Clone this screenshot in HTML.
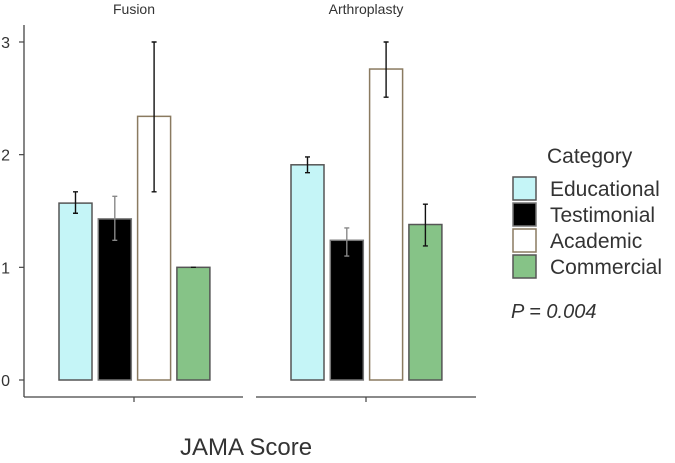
<!DOCTYPE html>
<html><head><meta charset="utf-8"><style>
body{margin:0;background:#fff;}
svg{display:block;font-family:"Liberation Sans",Arial,sans-serif;}
</style></head><body>
<svg id="chart" width="675" height="463">
<g id="axes"></g>
<g id="bars"></g>
<g id="legend"></g>
<text x="180" y="455" font-size="24" fill="#333">JAMA Score</text>
<text x="511" y="318" font-size="20" font-style="italic" fill="#333">P = 0.004</text>
</svg>
<script>
const panels = ["Fusion", "Arthroplasty"];
const categories = ["Educational", "Testimonial", "Academic", "Commercial"];
const fusionValues = [1.57, 1.43, 2.34, 1.0];
const fusionLow = [1.48, 1.24, 1.67, 1.0];
const fusionHigh = [1.67, 1.63, 3.0, 1.0];
const arthroValues = [1.91, 1.24, 2.76, 1.38];
const arthroLow = [1.84, 1.10, 2.51, 1.19];
const arthroHigh = [1.98, 1.35, 3.0, 1.56];
const yTicks = [0, 1, 2, 3];

const NS = "http://www.w3.org/2000/svg";
const colors = ["#c5f5f7", "#000000", "#ffffff", "#86c387"];
const strokes = ["#555", "#777", "#8a7a60", "#555"];
function y(v){ return 380 - v * 112.67; }
const panelX = [{x0:24, x1:243, tick:134, barStart:59}, {x0:256, x1:476, tick:366, barStart:291}];
function barX(p, i){ return panelX[p].barStart + i * 39.3; }
const bw = 33;
function mk(tag, attrs, parent){
  const e = document.createElementNS(NS, tag);
  for (const k in attrs) e.setAttribute(k, attrs[k]);
  parent.appendChild(e);
  return e;
}
const axes = document.getElementById("axes");
const bars = document.getElementById("bars");
const legend = document.getElementById("legend");

let yl = mk("line", {x1:24, y1:25, x2:24, y2:397, stroke:"#444", "stroke-width":1.3}, axes);


yTicks.forEach(t => {
  const tk = mk("line", {x1:19, x2:24, y1:y(t), y2:y(t), stroke:"#444", "stroke-width":1.2}, axes);
  
  
  const tx = mk("text", {x:10, y:y(t)+6, "font-size":16, fill:"#333", "text-anchor":"end"}, axes);
  tx.textContent = t;
  
  
});
panels.forEach((name, p) => {
  const P = panelX[p];
  const xl = mk("line", {x1:P.x0, x2:P.x1, y1:397, y2:397, stroke:"#444", "stroke-width":1.3}, axes);
  
  
  const xt = mk("line", {x1:P.tick, x2:P.tick, y1:397, y2:402, stroke:"#444", "stroke-width":1.2}, axes);
  
  
  const st = mk("text", {x:P.tick, y:14, "font-size":14, fill:"#333", "text-anchor":"middle"}, axes);
  st.textContent = name;
  
  
  const vals = p === 0 ? fusionValues : arthroValues;
  const lo = p === 0 ? fusionLow : arthroLow;
  const hi = p === 0 ? fusionHigh : arthroHigh;
  vals.forEach((v, i) => {
    const x = barX(p, i);
    const r = mk("rect", {x:x, y:y(v), width:bw, height:y(0)-y(v), fill:colors[i], stroke:strokes[i], "stroke-width":1.5}, bars);
    
    
    const cx = x + bw/2;
    const eb = mk("path", {d:`M${cx},${y(hi[i])}V${y(lo[i])}M${cx-2.5},${y(hi[i])}H${cx+2.5}M${cx-2.5},${y(lo[i])}H${cx+2.5}`, stroke: i===1 ? "#888" : "#111", "stroke-width":1.4, fill:"none"}, bars);
    
    
  });
});
const lt = mk("text", {x:547, y:163, "font-size":21, fill:"#333"}, legend);
lt.textContent = "Category";


categories.forEach((c, i) => {
  const ky = 177 + i * 26;
  const k = mk("rect", {x:513, y:ky, width:23, height:23, fill:colors[i], stroke:strokes[i], "stroke-width":1.5}, legend);
  
  
  const t = mk("text", {x:550, y:ky+19, "font-size":21, fill:"#333"}, legend);
  t.textContent = c;
  
  
});
</script>
</body></html>
